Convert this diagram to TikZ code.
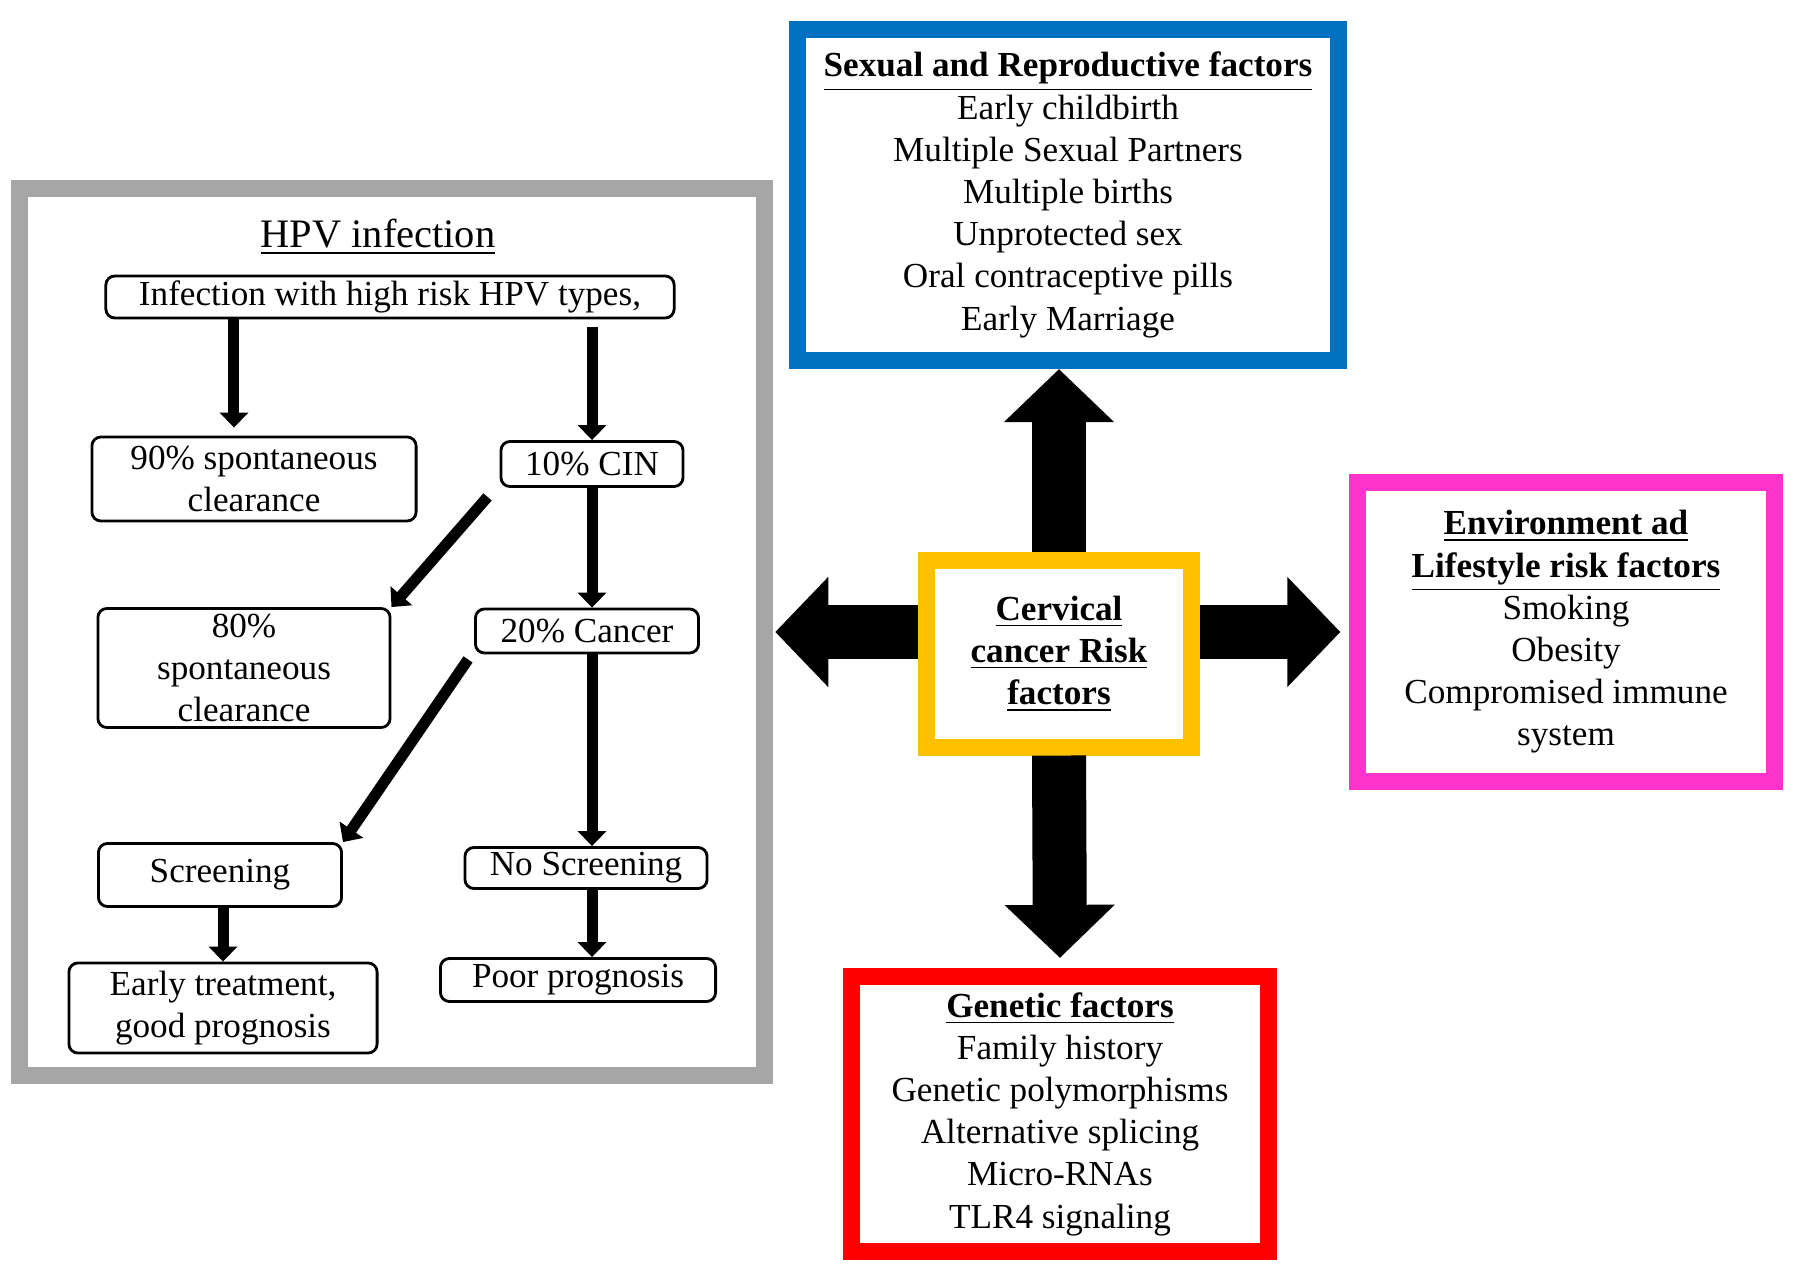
\documentclass[tikz,border=0pt]{standalone}
\usepackage{fontspec}
\setmainfont{Liberation Serif}
\usetikzlibrary{arrows.meta,calc,positioning}
\definecolor{hpvgris}{RGB}{166,166,166}
\definecolor{bleu}{RGB}{0,112,192}
\definecolor{orangec}{RGB}{255,192,0}
\definecolor{rose}{RGB}{255,51,204}
\definecolor{rouge}{RGB}{255,0,0}

\begin{document}
\begin{tikzpicture}[
		x=0.01cm, y=-0.01cm,
		etape/.style={draw, line width=0.8pt, rounded corners=0.09cm, align=center, inner sep=0pt, font=\fontsize{10}{12}\selectfont},
		cadre/.style={draw, line width=0.17cm, align=center, inner sep=0pt, font=\fontsize{10}{12}\selectfont},
		fleche/.style={line width=0.11cm, -{Triangle[length=0.15cm, width=0.28cm]}},
		grossefleche/.style={line width=0.54cm, -{Triangle[length=0.53cm, width=1.07cm]}}
		]
		\useasboundingbox (0,0) rectangle (1795,1280);
	
		% --- Panneau HPV (à gauche) ---
		\node[cadre, draw=hpvgris, minimum width=7.45cm, minimum height=8.87cm] (hpv) at (392,632) {};
		\node[font=\fontsize{11.5}{13}\selectfont] (titre) at (378,237) {\underline{HPV infection}};
		\node[etape, minimum width=5.68cm, minimum height=0.42cm] (inf) at (390,297) {Infection with high risk HPV types,};
		\node[etape, minimum width=3.24cm, minimum height=0.84cm] (clear90) at (254,479) {90\% spontaneous\\clearance};
		\node[etape, minimum width=1.82cm, minimum height=0.45cm] (cin) at (592,464) {10\% CIN};
		\node[etape, minimum width=2.92cm, minimum height=1.19cm] (clear80) at (244,668) {80\%\\spontaneous\\clearance};
		\node[etape, minimum width=2.23cm, minimum height=0.44cm] (cancer) at (587,631) {20\% Cancer};
		\node[etape, minimum width=2.43cm, minimum height=0.63cm] (screen) at (220,875) {Screening};
		\node[etape, minimum width=2.42cm, minimum height=0.41cm] (noscr) at (586,868) {No Screening};
		\node[etape, minimum width=3.08cm, minimum height=0.90cm] (early) at (223,1008) {Early treatment,\\good prognosis};
		\node[etape, minimum width=2.75cm, minimum height=0.43cm] (poor) at (578,980) {Poor prognosis};
	
		% Flèches du panneau
		\draw[fleche, shorten >=0.08cm] ([xshift=-0.2cm]clear90.north |- inf.south) -- ([xshift=-0.2cm]clear90.north);
		\draw[fleche, shorten <=0.08cm] (cin.north |- inf.south) -- (cin.north);
		\draw[fleche] ([shift={(-12,9)}]cin.south west) -- (clear80.north east);
		\draw[fleche] (cin.south) -- (cin.south |- cancer.north);
		\draw[fleche] ([shift={(-6,5)}]cancer.south west) -- (screen.north east);
		\draw[fleche] (cancer.south -| cin) -- (noscr.north -| cin);
		\draw[fleche] (screen.south -| early.north) -- (early.north);
		\draw[fleche] (noscr.south -| cin) -- (poor.north -| cin);
	
		% --- Facteurs de risque ---
		\node[cadre, draw=orangec, minimum width=2.64cm, minimum height=1.86cm] (centre) at (1059,654) {\underline{\textbf{Cervical}}\\\underline{\textbf{cancer Risk}}\\\underline{\textbf{factors}}};
		\node[cadre, draw=bleu, minimum width=5.41cm, minimum height=3.31cm] (sexual) at (1068,195) {\underline{\textbf{Sexual and Reproductive factors}}\\Early childbirth\\Multiple Sexual Partners\\Multiple births\\Unprotected sex\\Oral contraceptive pills\\Early Marriage};
		\node[cadre, draw=rose, minimum width=4.16cm, minimum height=2.98cm] (env) at (1566,632) {\underline{\textbf{Environment ad}}\\\underline{\textbf{Lifestyle risk factors}}\\Smoking\\Obesity\\Compromised immune\\system};
		\node[cadre, draw=rouge, minimum width=4.17cm, minimum height=2.75cm] (genetic) at (1060,1114) {\underline{\textbf{Genetic factors}}\\Family history\\Genetic polymorphisms\\Alternative splicing\\Micro-RNAs\\TLR4 signaling};
	
		% Grosses flèches
		\draw[grossefleche] (centre.north) -- (centre.north |- sexual.south);
		\draw[grossefleche, shorten >=0.02cm] (hpv.east -| centre.west) -- (hpv.east);
		\draw[grossefleche, shorten >=0.09cm] (env.west -| centre.east) -- (env.west);
		\draw[grossefleche, shorten >=0.10cm] (centre.south) -- (genetic.north);
	
	\end{tikzpicture}
\end{document}
